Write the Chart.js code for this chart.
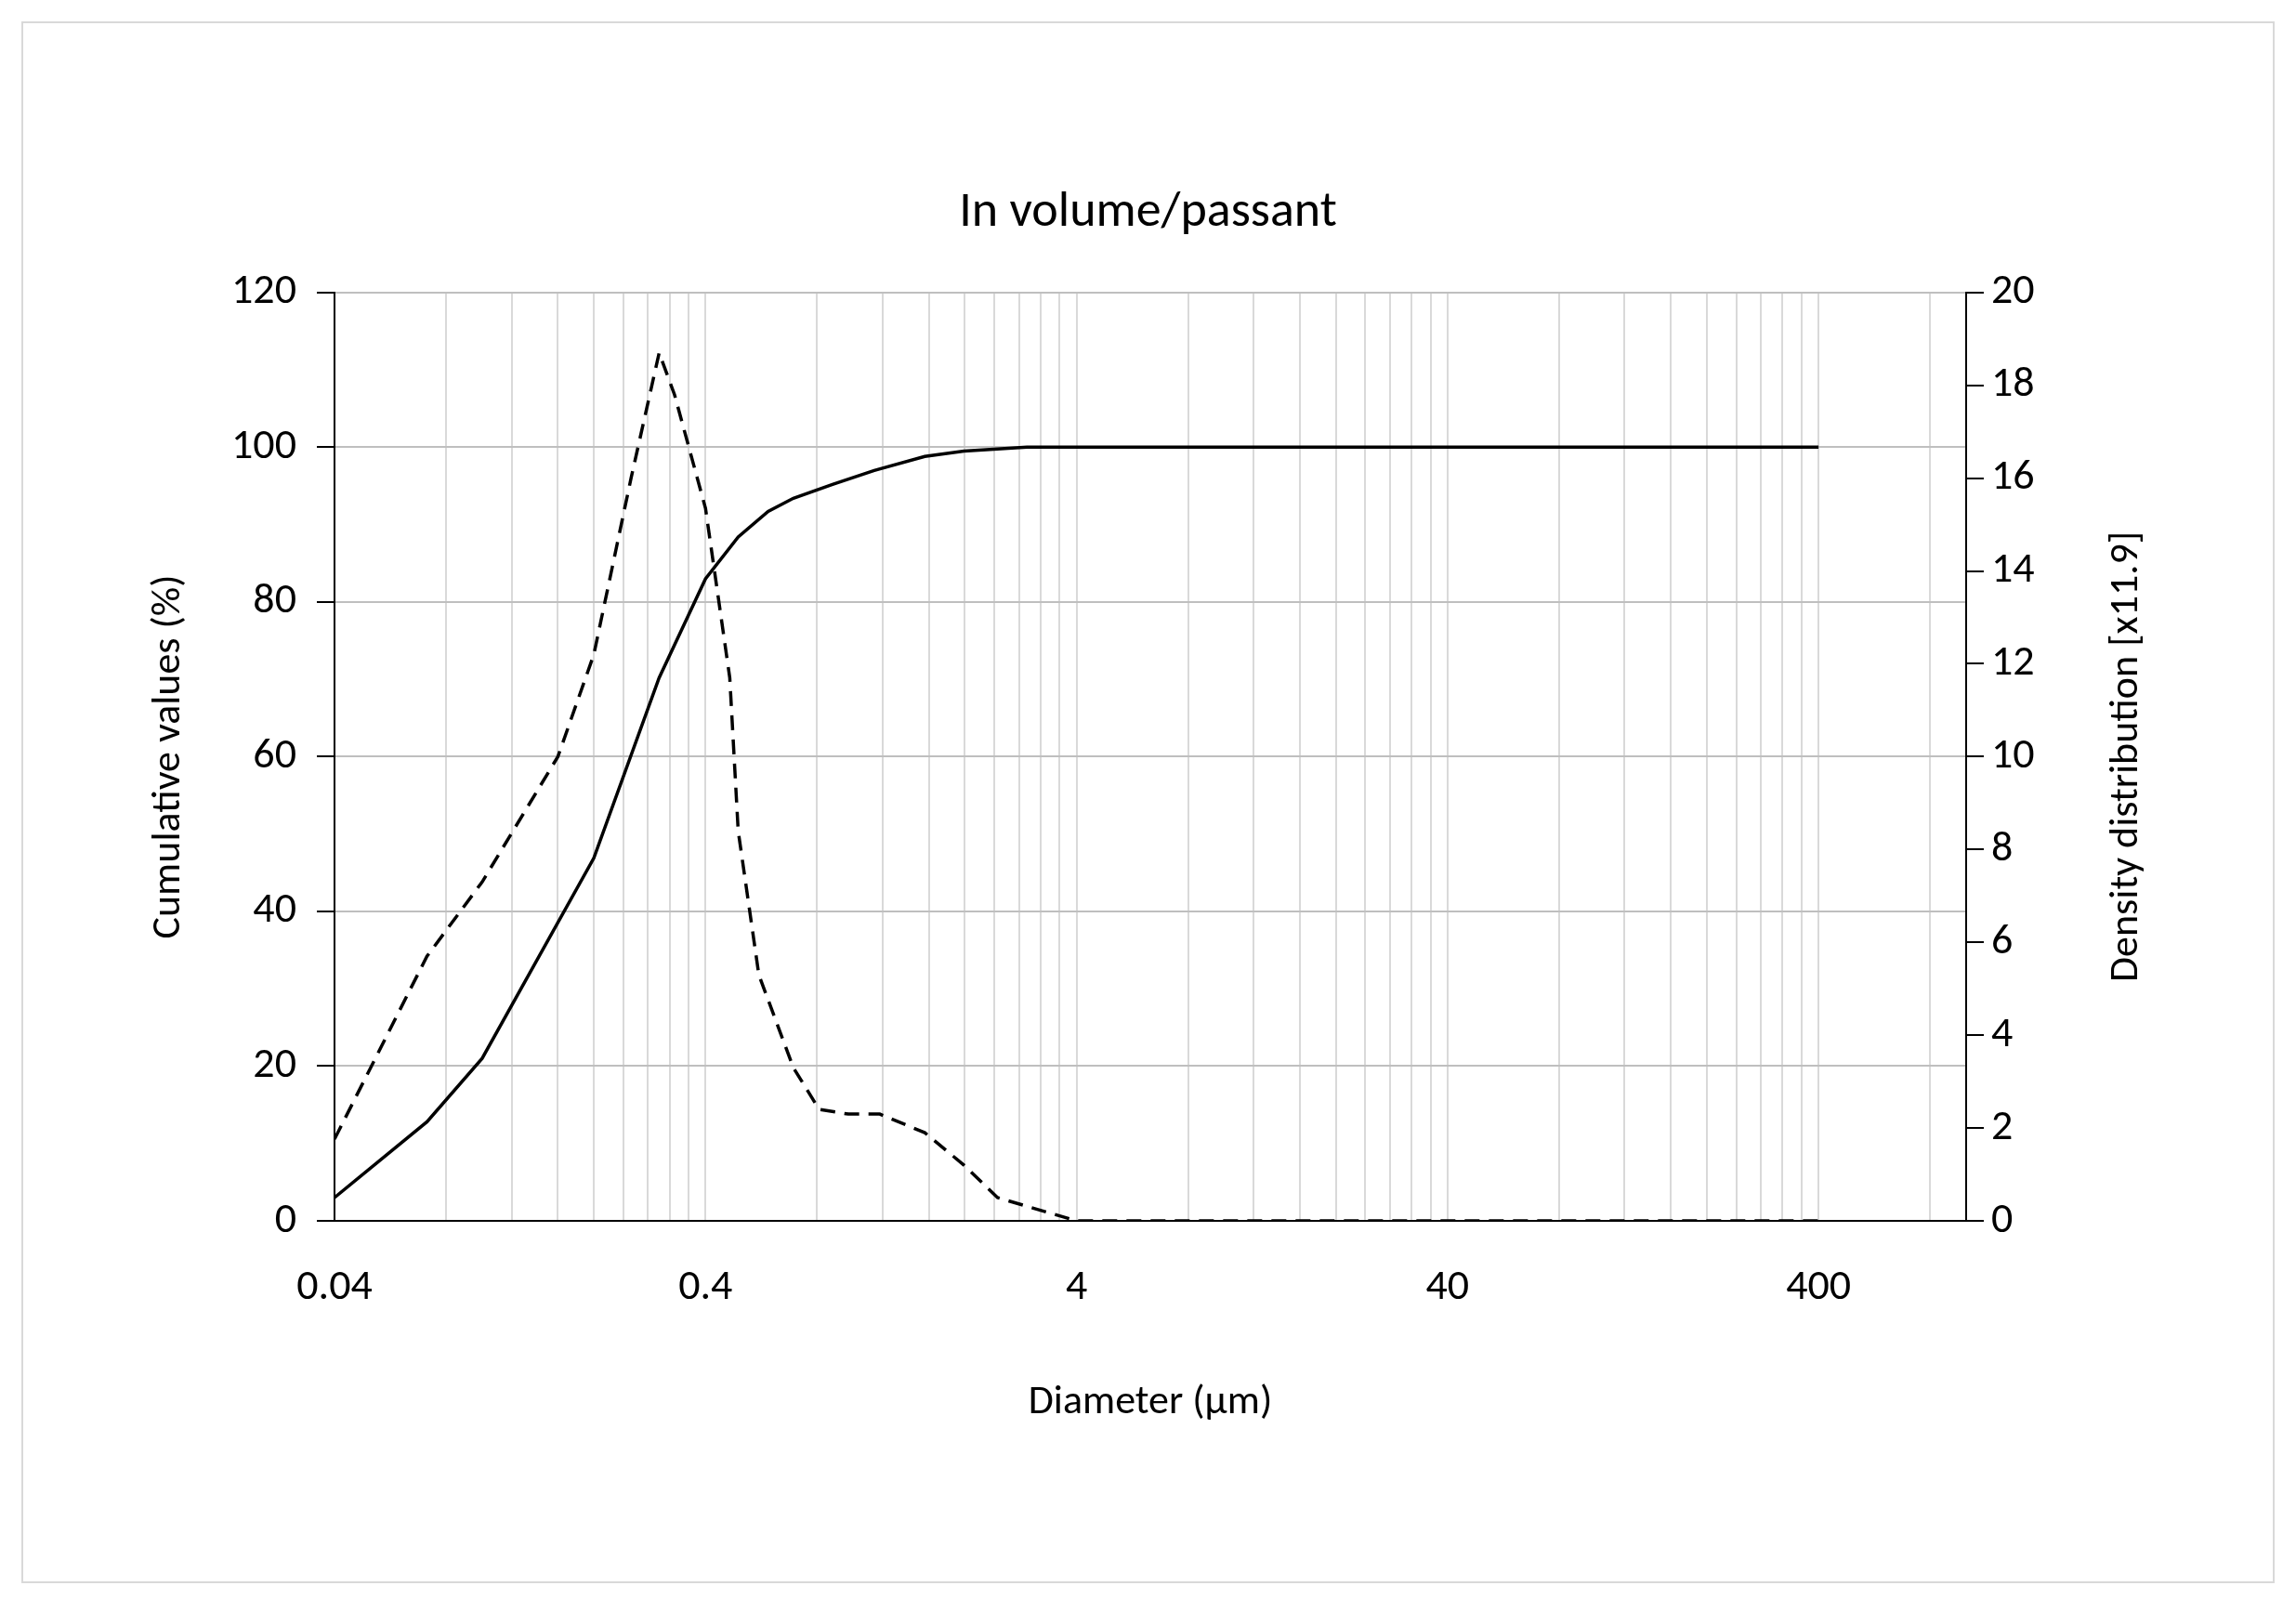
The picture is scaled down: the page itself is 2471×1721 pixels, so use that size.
<!DOCTYPE html>
<html>
<head>
<meta charset="utf-8">
<script src="https://cdn.jsdelivr.net/npm/chart.js@4"></script>
<style>
  html, body { margin: 0; padding: 0; background: #fff; }
  #wrap { width: 2471px; height: 1721px; }
</style>
</head>
<body>
<div id="wrap"><canvas id="chart" width="2471" height="1721"></canvas></div>
<script>
// Cumulative curve (left axis, %)
const cumDiameters = [0.04, 0.071, 0.1, 0.2, 0.3, 0.4, 0.49, 0.59, 0.69, 0.88, 1.14, 1.56, 1.99, 2.94, 400];
const cumValues = [3, 12.8, 21, 46.9, 70.2, 83, 88.4, 91.7, 93.4, 95.2, 97, 98.8, 99.5, 100, 100];

// Density curve (right axis)
const denDiameters = [0.04, 0.071, 0.1, 0.16, 0.2, 0.252, 0.3, 0.33, 0.4, 0.465, 0.49, 0.557, 0.69, 0.81, 0.97, 1.18, 1.56, 1.99, 2.45, 4, 400];
const denValues = [1.76, 5.7, 7.3, 10, 12.2, 16, 18.7, 17.8, 15.35, 11.7, 8.4, 5.3, 3.3, 2.4, 2.3, 2.3, 1.9, 1.2, 0.5, 0, 0];

const xLabels = [0.04, 0.4, 4, 40, 400];
const rightTitle = 'Density distribution [x11.9]';

const font = 'Calibri, Carlito, "Open Sans", "Liberation Sans", sans-serif';
Chart.defaults.font.family = font;
Chart.defaults.color = '#000';

function toPoints(xs, ys) {
    return xs.map((x, i) => ({ x: x, y: ys[i] }));
}

// Excel-style log grid: 0.04*k*10^n
function logTicks() {
    const ticks = [];
    for (let n = 0; n < 5; n++) {
        for (let k = 1; k <= 9; k++) {
            const v = +(0.04 * k * Math.pow(10, n)).toPrecision(6);
            if (v <= 1000) ticks.push({ value: v });
        }
    }
    return ticks;
}

const decorations = {
    id: 'decorations',
    beforeDraw(chart) {
        const c = chart.ctx;
        c.save();
        c.strokeStyle = '#d9d9d9';
        c.lineWidth = 2;
        c.strokeRect(24, 24, 2423, 1679);
        c.restore();
    },
    afterDraw(chart) {
        // right axis title reads bottom-to-top like the left one
        const c = chart.ctx;
        const a = chart.chartArea;
        c.save();
        c.translate(2289, (a.top + a.bottom) / 2);
        c.rotate(-Math.PI / 2);
        c.font = '44px ' + font;
        c.fillStyle = '#000';
        c.textAlign = 'center';
        c.textBaseline = 'middle';
        c.fillText(rightTitle, 0, 0);
        c.restore();
    }
};

new Chart(document.getElementById('chart'), {
    type: 'scatter',
    data: {
        datasets: [
            {
                label: 'Cumulative',
                data: toPoints(cumDiameters, cumValues),
                yAxisID: 'y',
                showLine: true,
                borderColor: '#000',
                borderWidth: 3.5,
                pointRadius: 0,
                tension: 0
            },
            {
                label: 'Density',
                data: toPoints(denDiameters, denValues),
                yAxisID: 'y2',
                showLine: true,
                borderColor: '#000',
                borderWidth: 3.5,
                borderDash: [16, 10],
                pointRadius: 0,
                tension: 0
            }
        ]
    },
    options: {
        responsive: false,
        animation: false,
        layout: { padding: { left: 150, right: 150, top: 0, bottom: 181 } },
        plugins: {
            legend: { display: false },
            tooltip: { enabled: false },
            title: {
                display: true,
                text: 'In volume/passant',
                font: { size: 54, weight: 'normal' },
                padding: { top: 197, bottom: 53 }
            }
        },
        scales: {
            x: {
                type: 'logarithmic',
                min: 0.04,
                max: 1000,
                afterBuildTicks(axis) { axis.ticks = logTicks(); },
                ticks: {
                    autoSkip: false,
                    maxRotation: 0,
                    padding: 45,
                    font: { size: 46 },
                    callback(v) { return xLabels.includes(+v) ? String(+v) : ''; }
                },
                grid: { color: '#d9d9d9', lineWidth: 2, drawTicks: false },
                border: { color: '#000', width: 2 },
                title: { display: true, text: 'Diameter (µm)', font: { size: 44 }, padding: { top: 24, bottom: 4 } }
            },
            y: {
                position: 'left',
                min: 0,
                max: 120,
                afterFit(axis) { axis.width = 210; },
                ticks: { stepSize: 20, padding: 22, font: { size: 46 } },
                grid: { color: '#bfbfbf', lineWidth: 2, tickLength: 19, tickColor: '#000' },
                border: { color: '#000', width: 2 },
                title: { display: true, text: 'Cumulative values (%)', font: { size: 44 }, padding: { top: 6, bottom: 4 } }
            },
            y2: {
                position: 'right',
                min: 0,
                max: 20,
                afterFit(axis) { axis.width = 205; },
                ticks: { stepSize: 2, padding: 8, font: { size: 46 } },
                grid: { drawOnChartArea: false, tickLength: 19, tickColor: '#000', lineWidth: 2 },
                border: { color: '#000', width: 2 }
            }
        }
    },
    plugins: [decorations]
});
</script>
</body>
</html>
